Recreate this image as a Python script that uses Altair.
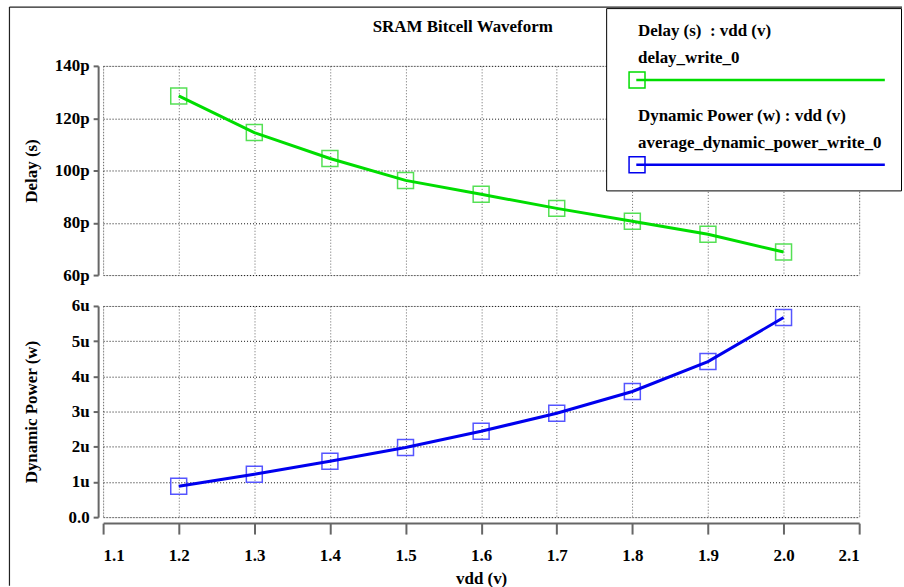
import altair as alt
import pandas as pd

# ---------------- data ----------------
vdd = [1.2, 1.3, 1.4, 1.5, 1.6, 1.7, 1.8, 1.9, 2.0]
delay_ps = [128.5, 114.5, 104.6, 96.2, 90.9, 85.5, 80.6, 75.6, 68.8]
power_uw = [0.88, 1.22, 1.59, 1.98, 2.44, 2.95, 3.57, 4.42, 5.67]
series = ["delay_write_0", "average_dynamic_power_write_0"]
legend_heads = ["Delay (s)\u00a0\u00a0: vdd (v)", "Dynamic Power (w) : vdd (v)"]
x_ticks = [1.1, 1.2, 1.3, 1.4, 1.5, 1.6, 1.7, 1.8, 1.9, 2.0, 2.1]
delay_ticks = [60, 80, 100, 120, 140]
power_ticks = [0, 1, 2, 3, 4, 5, 6]
line_colors = ["#00dd00", "#0000ee"]
marker_colors = ["#55e055", "#5555ff"]
chart_title = "SRAM Bitcell Waveform"

FONT = "Liberation Serif"
FS = 17

top_df = pd.DataFrame({"vdd": vdd, "value": delay_ps, "series": series[0]})
bot_df = pd.DataFrame({"vdd": vdd, "value": power_uw, "series": series[1]})
one = pd.DataFrame({"k": [0]})

x_scale = alt.Scale(domain=[1.1, 2.1], nice=False, zero=False)
color_scale = alt.Scale(domain=series, range=line_colors)

label_expr = (
    f"datum.label == '{series[0]}' ? ['{legend_heads[0]}', '{series[0]}'] : "
    f"['{legend_heads[1]}', '{series[1]}']"
)

legend = alt.Legend(
    orient="none",
    legendX=505,
    legendY=-58,
    title=None,
    labelExpr=label_expr,
    symbolType="M0,5.15H2V7.15H0Z M1,6.09H32V6.21H1Z",
    symbolSize=256,
    symbolStrokeWidth=1.5,
    symbolFillColor="transparent",
    labelFont=FONT,
    labelFontSize=FS,
    labelFontWeight="bold",
    labelColor="black",
    labelLimit=600,
    labelOffset=0,
    rowPadding=15,
    padding=14,
    strokeColor="black",
    fillColor="white",
)

axis_common = dict(
    labelFont=FONT, labelFontSize=FS, labelFontWeight="bold", labelColor="black",
    titleFont=FONT, titleFontSize=FS, titleFontWeight="bold", titleColor="black",
    domainColor="#666", domainWidth=2, tickColor="#666", tickWidth=2,
    gridDash=[1, 2], gridWidth=1, labelOverlap=False,
)

# ---------------- top panel ----------------
x_top = alt.X("vdd:Q", scale=x_scale,
              axis=alt.Axis(values=x_ticks, tickCount=11, labels=False, ticks=False,
                            domain=False, title=None, grid=True, gridColor="#666",
                            **axis_common))
y_top = alt.Y("value:Q", scale=alt.Scale(domain=[60, 140], nice=False, zero=False),
              axis=alt.Axis(values=delay_ticks, tickCount=5, labelExpr="datum.value + 'p'",
                            title="Delay (s)", offset=5, tickSize=5, labelPadding=4,
                            titleX=-58, grid=True, gridColor="#111", **axis_common))

top_line = alt.Chart(top_df).mark_line(strokeWidth=3).encode(
    x=x_top, y=y_top,
    color=alt.Color("series:N", scale=color_scale, legend=legend),
)
top_pts = alt.Chart(top_df).mark_point(shape="square", size=256, filled=False,
                                       strokeWidth=1.5, opacity=1,
                                       color=marker_colors[0]).encode(x="vdd:Q", y="value:Q")
frame_left = alt.Chart(one).mark_rule(color="#222", strokeWidth=1.2).encode(
    x=alt.value(-94), y=alt.value(-59), y2=alt.value(522))
frame_top = alt.Chart(one).mark_rule(color="#222", strokeWidth=1.2).encode(
    x=alt.value(-94), x2=alt.value(802), y=alt.value(-59))

top = alt.layer(top_pts, top_line, frame_left, frame_top).properties(width=759, height=210)

# ---------------- bottom panel ----------------
x_bot = alt.X("vdd:Q", scale=x_scale,
              axis=alt.Axis(values=x_ticks, tickCount=11, format=".1f", title="vdd (v)",
                            offset=6, tickSize=11, labelPadding=14, titlePadding=7,
                            grid=True, gridColor="#666", **axis_common))
y_bot = alt.Y("value:Q", scale=alt.Scale(domain=[0, 6], nice=False),
              axis=alt.Axis(values=power_ticks, tickCount=7,
                            labelExpr="datum.value == 0 ? '0.0' : datum.value + 'u'",
                            title="Dynamic Power (w)", offset=5, tickSize=5, labelPadding=4,
                            titleX=-58, grid=True, gridColor="#111", **axis_common))

bot_line = alt.Chart(bot_df).mark_line(strokeWidth=3).encode(
    x=x_bot, y=y_bot,
    color=alt.Color("series:N", scale=color_scale, legend=legend),
)
bot_pts = alt.Chart(bot_df).mark_point(shape="square", size=256, filled=False,
                                       strokeWidth=1.5, opacity=1,
                                       color=marker_colors[1]).encode(x="vdd:Q", y="value:Q")
bottom = alt.layer(bot_pts, bot_line).properties(width=759, height=212)

chart = alt.vconcat(top, bottom, spacing=31, bounds="flush").resolve_scale(
    color="shared").resolve_legend(color="shared").properties(
    title=alt.TitleParams(chart_title, font=FONT, fontSize=FS, fontWeight="bold",
                          color="black", anchor="middle", offset=-30, dx=7),
    padding={"left": 7.5, "top": 4, "right": 0, "bottom": 0},
    background="white",
).configure_view(stroke="#444", strokeWidth=1.5).configure(
    style={"guide-label": {"lineHeight": 27}})

chart.save("out.html", embed_options={"renderer": "svg", "actions": False})
